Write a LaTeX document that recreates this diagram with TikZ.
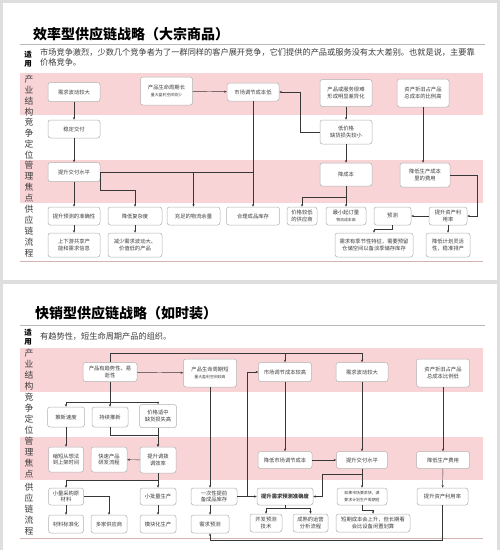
\documentclass[tikz,border=0pt]{standalone}
\usepackage{fontspec}
\usepackage{tikz}
\usetikzlibrary{arrows.meta}
\newfontfamily\cjk{Noto Sans CJK SC}
\definecolor{pagebg}{RGB}{222,222,222}
\definecolor{bandbg}{RGB}{249,212,215}
\definecolor{boxline}{RGB}{178,178,178}
\definecolor{rulegray}{RGB}{185,185,185}
\definecolor{rulepink}{RGB}{212,178,178}
\definecolor{txtgray}{RGB}{60,60,60}
\definecolor{arrowgray}{RGB}{55,55,55}
\newcommand{\sm}[1]{{\fontsize{3.9}{4.6}\selectfont #1}}

\begin{document}
\begin{tikzpicture}[x=1pt, y=-1pt,
  font=\cjk, >={Stealth[length=2.6pt, width=2.2pt]},
  box/.style={draw=boxline, fill=white, rounded corners=2.5pt, line width=0.5pt, align=center,
    inner sep=1pt, minimum width=52, minimum height=18, text=txtgray,
    font=\cjk\fontsize{5.3}{6.5}\selectfont},
  link/.style={draw=arrowgray, line width=0.45pt},
  rowlbl/.style={font=\cjk\fontsize{8.8}{11}\selectfont, text=txtgray, align=center, inner sep=0pt},
  title/.style={font=\cjk\bfseries\fontsize{14}{16}\selectfont, anchor=west, inner sep=0pt},
  usage/.style={font=\cjk\bfseries\fontsize{7.5}{8.8}\selectfont, align=center, inner sep=0pt},
  note/.style={font=\cjk\fontsize{8.2}{10}\selectfont, text=txtgray, anchor=north west, align=left, inner sep=0pt}]
  \useasboundingbox (0,0) rectangle (500,550);
  % page and bands
  \fill[pagebg] (0,0) rectangle (500,550);
  \fill[white] (3,3) rectangle (497,280);
  \fill[white] (3,284) rectangle (497,550);
  \fill[bandbg] (20,73) rectangle (483,115);
  \fill[bandbg] (20,160) rectangle (483,203);
  \fill[bandbg] (20,348) rectangle (483,392);
  \fill[bandbg] (20,437) rectangle (483,480);
  \draw[rulegray, line width=0.8pt] (20,44) -- (485,44);
  \draw[rulepink, line width=0.6pt] (20,261) -- (483,261);
  \draw[rulegray, line width=0.8pt] (20,325) -- (485,325);
  \draw[rulepink, line width=0.6pt] (20,538) -- (483,538);

  % ---- efficient supply chain ----
  \node[title] (titleA) at (33,34) {效率型供应链战略（大宗商品）};
  \node[usage] (useA) at (28,59) {适\\用};
  \node[note] (noteA) at (40,48.5) {市场竞争激烈，少数几个竞争者为了一群同样的客户展开竞争，它们提供的产品或服务没有太大差别。也就是说，主要靠\\价格竞争。};
  \node[rowlbl] (rA1) at (29,96) {产\\业\\结\\构};
  \node[rowlbl] (rA2) at (29,139) {竞\\争\\定\\位};
  \node[rowlbl] (rA3) at (29,182) {管\\理\\焦\\点};
  \node[rowlbl] (rA4) at (29,231.5) {供\\应\\链\\流\\程};

  \node[box, minimum height=19] (demand) at (74,92) {需求波动较大};
  \node[box, minimum height=28] (lifeL) at (166.5,91) {产品生命周期长\\\sm{量大盈利空间较少}};
  \node[box] (adjustL) at (253,92) {市场调节成本低};
  \node[box, minimum height=27] (nodiff) at (346,93) {产品或服务很难\\形成明显差异化};
  \node[box, minimum height=28] (assetH) at (423,93) {资产折旧占产品\\总成本的比例高};
  \node[box] (stable) at (74,129) {稳定交付};
  \node[box, minimum height=24] (lowprice) at (346,132) {低价格\\缺货损失较小};
  \node[box, minimum height=19] (deliverA) at (74,172) {提升交付水平};
  \node[box, minimum height=23] (cut) at (346,174.5) {降成本};
  \node[box, minimum width=50, minimum height=24] (prodcost) at (425,175) {降低生产成本\\里的费用};

  \node[box] (fcast) at (74,216) {提升预测的准确性};
  \node[box, minimum width=54] (simplify) at (135,216) {降低复杂度};
  \node[box, minimum width=53] (buffer) at (193.5,216) {充足的物流余量};
  \node[box, minimum width=53] (stock) at (253,216) {合理成品库存};
  \node[box, minimum width=30] (supplier) at (302,216) {价格较低\\的供应商};
  \node[box, minimum width=40] (moq) at (346,216) {最小起订量\\\sm{物流成本高}};
  \node[box, minimum width=37] (predict) at (392.5,216) {预测};
  \node[box, minimum width=38] (utilA) at (448,216) {提升资产利\\用率};
  \node[box, minimum height=24] (share) at (74,245) {上下游共享产\\能和需求信息};
  \node[box, minimum width=54, minimum height=24] (reduce) at (135,245) {减少需求波动大、\\价值低的产品};
  \node[box, minimum width=78, minimum height=24] (season) at (374,245) {需求有季节性特征，需要预留\\仓储空间以备淡季储存库存};
  \node[box, minimum width=44, minimum height=24] (rigid) at (448,245) {降低计划灵活\\性，稳准排产};

  \draw[link, ->] (demand) -- (stable);
  \draw[link, ->] (stable) -- (deliverA);
  \draw[link, ->] (lifeL) -- (adjustL);
  \draw[link, ->] (nodiff) -- (lowprice);
  \draw[link, ->] (lowprice.west) -- ++(-20,0) |- (adjustL.east);
  \draw[link, ->] (lowprice) -- (cut);
  \draw[link, ->] (assetH) -- (assetH |- prodcost.north);
  \draw[link, ->] (adjustL) -- (stock);
  \draw[link, ->] (deliverA) -- (fcast);
  \draw[link, ->] (deliverA.east) -| (buffer.north);
  \draw[link] (deliverA.east) -- (deliverA.east -| stock.north);
  \draw[link, ->] (deliverA.east) -- ++(0,18) -| (simplify.north);
  \draw[link, ->] (cut.south) -- ++(0,11) -| (supplier.north);
  \draw[link, ->] (cut) -- (moq);
  \draw[link, ->] (prodcost.east) -- ++(27,0) |- (utilA.east);
  \draw[link, ->] (utilA) -- (predict);
  \draw[link, ->] (utilA) -- (rigid);
  \draw[link, ->] (predict.south) -- ++(0,4) -| (season.north);
  \draw[link, ->] (fcast) -- (share);
  \draw[link, ->] (simplify) -- (reduce);

  % ---- responsive supply chain ----
  \node[title] (titleB) at (35,313) {快销型供应链战略（如时装）};
  \node[usage] (useB) at (28,337) {适\\用};
  \node[note] (noteB) at (40,332) {有趋势性，短生命周期产品的组织。};
  \node[rowlbl] (rB1) at (29,370) {产\\业\\结\\构};
  \node[rowlbl] (rB2) at (29,413.5) {竞\\争\\定\\位};
  \node[rowlbl] (rB3) at (29,458) {管\\理\\焦\\点};
  \node[rowlbl] (rB4) at (29,509.5) {供\\应\\链\\流\\程};

  \node[box, minimum width=54, minimum height=19] (trend) at (110,372) {产品有趋势性、易\\逝性};
  \node[box, minimum width=53, minimum height=28] (lifeS) at (210,373) {产品生命周期短\\\sm{量大盈利空间较高}};
  \node[box, minimum width=53, minimum height=19] (adjustH) at (285,372) {市场调节成本较高};
  \node[box, minimum height=19] (demandS) at (362,372) {需求波动较大};
  \node[box, minimum width=53, minimum height=28] (assetL) at (443,373) {资产折旧占产品\\总成本比例低};
  \node[box, minimum width=37, minimum height=20] (speed) at (66,417) {推新速度};
  \node[box, minimum width=36, minimum height=20] (keepnew) at (110,417) {持续推新};
  \node[box, minimum width=37, minimum height=23] (midprice) at (158,416) {价格适中\\缺货损失高};
  \node[box, minimum width=35, minimum height=25] (shorten) at (66,459.5) {缩短从想法\\到上架时间};
  \node[box, minimum width=36, minimum height=25] (rnd) at (109,459.5) {快速产品\\研发流程};
  \node[box, minimum width=36, minimum height=26] (realloc) at (158,460) {提升调拨\\调效率};
  \node[box, minimum width=54, minimum height=17] (cutadj) at (285,460) {降低市场调节成本};
  \node[box, minimum width=51, minimum height=17] (deliverS) at (362,460) {提升交付水平};
  \node[box, minimum width=53, minimum height=17] (lowfee) at (443,460) {降低生产费用};

  \node[box, minimum width=35, minimum height=17] (smallbuy) at (66,496.5) {小量采购原\\材料};
  \node[box, minimum width=36, minimum height=17] (smallbatch) at (158,496.5) {小批量生产};
  \node[box, minimum width=46, minimum height=17] (prestock) at (214,496.5) {一次性提前\\备成品库存};
  \node[box, minimum width=56, minimum height=17, font=\cjk\bfseries\fontsize{5.3}{6.5}\selectfont] (accuracy) at (285,496.5) {提升需求预测准确度};
  \node[box, minimum width=50, minimum height=17] (cycle) at (362,496.5) {\sm{如果市场要求快，满}\\\sm{要求计划生产周期短}};
  \node[box, minimum width=51, minimum height=17] (utilS) at (442.5,496.5) {提升资产利用率};
  \node[box, minimum width=35, minimum height=18] (standard) at (66,524) {材料标准化};
  \node[box, minimum width=36, minimum height=18] (multi) at (109,524) {多家供应商};
  \node[box, minimum width=36, minimum height=18] (modular) at (158,524) {模块化生产};
  \node[box, minimum width=38, minimum height=18] (forecast) at (210,524) {需求预测};
  \node[box, minimum width=32, minimum height=18] (devtech) at (266,523) {开发预测\\技术};
  \node[box, minimum width=35, minimum height=18] (mature) at (310.5,523) {成熟的运营\\分析流程};
  \node[box, minimum width=74, minimum height=18] (shortterm) at (373,523) {短期成本会上升，但长期看\\会比设备闲置划算};

  \coordinate (busT) at (110,353);
  \coordinate (busC) at (110,402);
  \draw[link, ->] (trend) -- (lifeS);
  \draw[link, ->] (trend.north) -- (busT) -| (demandS.north);
  \draw[link, ->] (busT -| adjustH.north) -- (adjustH.north);
  \draw[link] (trend.south) -- (busC);
  \draw[link, ->] (busC) -| (speed.north);
  \draw[link, ->] (busC) -- (keepnew.north);
  \draw[link, ->] (busC) -| (midprice.north);
  \draw[link, ->] (prestock.east) -- ++(10,0) |- (adjustH.west);
  \draw[link, ->] (speed) -- (shorten);
  \draw[link, ->] (keepnew.south) -- ++(0,8) -| (realloc.north);
  \draw[link, ->] (midprice) -- (realloc);
  \draw[link, ->] (realloc) -- (rnd);
  \draw[link, ->] (realloc.south) -- ++(0,7) -| (smallbuy.north);
  \draw[link, ->] (realloc) -- (smallbatch);
  \draw[link, ->] (smallbuy) -- (standard);
  \draw[link, ->] (smallbuy.east) -| (multi.north);
  \draw[link, ->] (smallbatch) -- (modular);
  \draw[link, ->] (lifeS.south) -- (lifeS.south |- prestock.north);
  \draw[link, ->] (lifeS.south |- prestock.south) -- (lifeS.south |- forecast.north);
  \draw[link, ->] (prestock) -- (accuracy);
  \draw[link, ->] (adjustH) -- (cutadj);
  \draw[link, ->] (demandS) -- (deliverS);
  \draw[link, ->] (assetL) -- (lowfee);
  \draw[link, ->] (cutadj) -- (deliverS);
  \draw[link, ->] (deliverS.south) -- ++(0,5) -- ++(-40,0) |- (accuracy.east);
  \draw[link, ->] (deliverS) -- (cycle);
  \draw[link, ->] (cycle.south) -- ++(0,5) -| (shortterm.north);
  \draw[link, ->] (accuracy.south) -- ++(0,3) -| (devtech.north);
  \draw[link, ->] (accuracy.south) -- ++(0,3) -| (mature.north);
  \draw[link, ->] (lowfee) -- (utilS);
  \draw[link, ->] (utilS.south) -- ++(0,35) -| (lifeS.south |- forecast.south);
\end{tikzpicture}
\end{document}
